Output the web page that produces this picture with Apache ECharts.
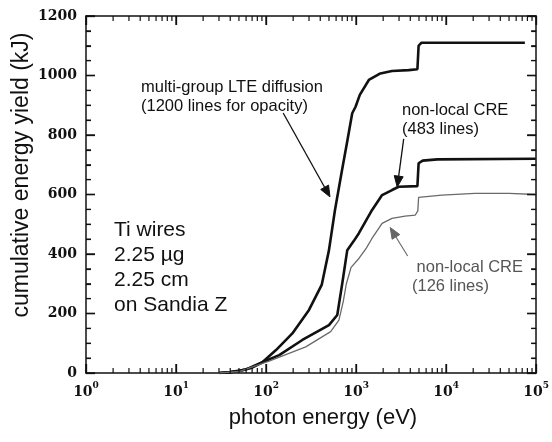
<!DOCTYPE html>
<html><head><meta charset="utf-8">
<script src="https://cdn.jsdelivr.net/npm/echarts@6/dist/echarts.min.js"></script>
<style>html,body{margin:0;padding:0;background:#fff}.c{width:552px;height:442px}</style>
</head><body><div id="main" class="c"></div>
<script>
// photon energy (eV) / cumulative energy yield (kJ)
const lteX = [30, 40, 50, 70, 91, 129, 196, 300, 415, 500, 583, 700, 800, 906, 987, 1100, 1386, 1862, 2500, 3838, 4800, 4950, 5300, 75000];
const lteY = [0, 3, 7, 18, 36, 77, 133, 212, 296, 413, 548, 684, 781, 873, 895, 935, 985, 1007, 1015, 1018, 1021, 1100, 1110, 1110];

const cre483X = [30, 40, 60, 91, 140, 253, 500, 618, 702, 798, 950, 1075, 1507, 1946, 2508, 2973, 4800, 4950, 5500, 8000, 99000];
const cre483Y = [0, 3, 12, 36, 60, 111, 161, 195, 301, 413, 445, 470, 548, 598, 615, 626, 628, 705, 714, 718, 720];

const cre126X = [30, 50, 108, 276, 522, 645, 720, 780, 880, 1075, 1300, 1507, 1946, 2508, 3500, 4550, 4850, 4950, 8970, 20900, 50000, 99000];
const cre126Y = [0, 5, 40, 88, 139, 178, 240, 300, 355, 385, 420, 453, 503, 520, 527, 531, 545, 590, 598, 604, 604, 600];

const xTickExponents = [0, 1, 2, 3, 4, 5];
const yTicks = [0, 200, 400, 600, 800, 1000, 1200];

// annotation arrows: [tailEnergy, tailYield, tipEnergy, tipYield, grey?]
const arrows = [
  [155, 874, 513, 592, 0],
  [3380, 787, 2864, 625, 0],
  [3740, 393, 2395, 489, 1]
];

const xMajor = xTickExponents.map(e => Math.pow(10, e));
const xMinor = [];
for (let e = 0; e < 5; e++) for (let d = 2; d <= 9; d++) xMinor.push(d * Math.pow(10, e));
const yMinor = [];
for (let i = 0; i < yTicks.length - 1; i++) for (let k = 1; k <= 3; k++) yMinor.push(yTicks[i] + k * 50);

const serif = 'DejaVu Serif';
const zip = (xs, ys) => xs.map((x, i) => [x, ys[i]]);

const axisLine = { show: true, onZero: false, lineStyle: { color: '#111', width: 1.5 } };
const majorTick = () => ({ show: true, inside: true, length: 9, lineStyle: { color: '#111', width: 1.3 } });
const yMinorTick = () => ({ show: true, splitNumber: 4, length: 5, lineStyle: { color: '#111', width: 1.2 } });

// tick marks as symbols placed by the axes' own scales (pointing into the plot)
const tickItems = [];
const addTick = (x, y, w, h, ox, oy) => tickItems.push({ value: [x, y], symbolSize: [w, h], symbolOffset: [ox, oy] });
xMajor.forEach(v => { addTick(v, 0, 1.4, 9, 0, -4.5); addTick(v, 1200, 1.4, 9, 0, 4.5); });
xMinor.forEach(v => { addTick(v, 0, 1.2, 5, 0, -2.5); addTick(v, 1200, 1.2, 5, 0, 2.5); });
yTicks.forEach(v => { addTick(1, v, 9, 1.4, 4.5, 0); addTick(100000, v, 9, 1.4, -4.5, 0); });
yMinor.forEach(v => { addTick(1, v, 5, 1.2, 2.5, 0); addTick(100000, v, 5, 1.2, -2.5, 0); });

const texts = [
  { type: 'text', x: 22, y: 175, rotation: Math.PI / 2,
    style: { text: 'cumulative energy yield (kJ)', font: '23px "Liberation Sans"', fill: '#111', align: 'center', verticalAlign: 'middle' } },
  { type: 'text', x: 323, y: 418,
    style: { text: 'photon energy (eV)', font: '22px "Liberation Sans"', fill: '#111', align: 'center', verticalAlign: 'middle' } },
  { type: 'text', x: 141, y: 78,
    style: { text: 'multi-group LTE diffusion\n(1200 lines for opacity)', font: '16.5px "Liberation Sans"', lineHeight: 19, fill: '#111', align: 'left', verticalAlign: 'top' } },
  { type: 'text', x: 402, y: 101,
    style: { text: 'non-local CRE\n(483 lines)', font: '16.5px "Liberation Sans"', lineHeight: 19, fill: '#111', align: 'left', verticalAlign: 'top' } },
  { type: 'text', x: 412, y: 258,
    style: { text: ' non-local CRE\n(126 lines)', font: '16.5px "Liberation Sans"', lineHeight: 19, fill: '#555', align: 'left', verticalAlign: 'top' } },
  { type: 'text', x: 114, y: 218,
    style: { text: 'Ti wires\n2.25 \u00b5g\n2.25 cm\non Sandia Z', font: '21px "Liberation Sans"', lineHeight: 25, fill: '#111', align: 'left', verticalAlign: 'top' } }
];

const option = {
  animation: false,
  title: { text: '', show: false },
  grid: { left: 86, right: 14, top: 16, bottom: 69, containLabel: false },
  xAxis: [{
    type: 'log', logBase: 10, min: 1, max: 100000, position: 'bottom',
    axisLine: axisLine, axisTick: majorTick(), splitLine: { show: false },
    axisLabel: {
      show: true, margin: 8,
      formatter: v => '{b|10}{s|' + xTickExponents[Math.round(Math.log10(v))] + '}',
      rich: {
        b: { fontFamily: serif, fontWeight: 'bold', fontSize: 14, color: '#111', lineHeight: 18, verticalAlign: 'bottom' },
        s: { fontFamily: serif, fontWeight: 'bold', fontSize: 9, color: '#111', lineHeight: 10, verticalAlign: 'top' }
      }
    }
  }, {
    type: 'log', logBase: 10, min: 1, max: 100000, position: 'top',
    axisLine: axisLine, axisTick: majorTick(), axisLabel: { show: false }, splitLine: { show: false }
  }],
  yAxis: [{
    type: 'value', min: 0, max: 1200, interval: 200, position: 'left',
    axisLine: axisLine, axisTick: majorTick(), minorTick: yMinorTick(),
    splitLine: { show: false }, minorSplitLine: { show: false },
    axisLabel: { show: true, margin: 9, fontFamily: serif, fontWeight: 'bold', fontSize: 14, color: '#111',
      formatter: v => String(yTicks[Math.round(v / 200)]) }
  }, {
    type: 'value', min: 0, max: 1200, interval: 200, position: 'right',
    axisLine: axisLine, axisTick: majorTick(), minorTick: yMinorTick(),
    splitLine: { show: false }, minorSplitLine: { show: false }, axisLabel: { show: false }
  }],
  series: [{
    type: 'scatter', silent: true, clip: false, z: 7, symbol: 'rect',
    itemStyle: { color: '#111', opacity: 1 },
    data: tickItems
  }, {
    type: 'line', showSymbol: false, silent: true,
    data: zip(lteX, lteY), lineStyle: { color: '#111', width: 2.6 }
  }, {
    type: 'line', showSymbol: false, silent: true,
    data: zip(cre483X, cre483Y), lineStyle: { color: '#111', width: 2.6 }
  }, {
    type: 'line', showSymbol: false, silent: true,
    data: zip(cre126X, cre126Y), lineStyle: { color: '#6a6a6a', width: 1.3 }
  }, {
    type: 'custom', silent: true, clip: false, coordinateSystem: 'cartesian2d', z: 6,
    data: arrows,
    renderItem: function (params, api) {
      const p = api.coord([api.value(0), api.value(1)]);
      const q = api.coord([api.value(2), api.value(3)]);
      const grey = api.value(4) === 1;
      const col = grey ? '#666' : '#111';
      const dx = q[0] - p[0], dy = q[1] - p[1];
      const len = Math.sqrt(dx * dx + dy * dy);
      const ux = dx / len, uy = dy / len;
      const hl = 11, hw = 4.5;
      const bx = q[0] - ux * hl, by = q[1] - uy * hl;
      return { type: 'group', children: [
        { type: 'line', shape: { x1: p[0], y1: p[1], x2: bx, y2: by }, style: { stroke: col, lineWidth: grey ? 1.1 : 1.3, fill: null } },
        { type: 'polygon', shape: { points: [[q[0], q[1]], [bx - uy * hw, by + ux * hw], [bx + uy * hw, by - ux * hw]] }, style: { fill: col, stroke: col, lineWidth: 1 } }
      ] };
    }
  }],
  graphic: texts
};

const chart = echarts.init(document.getElementById('main'), null, { renderer: 'canvas' });
chart.setOption(option);
</script>
</body></html>
